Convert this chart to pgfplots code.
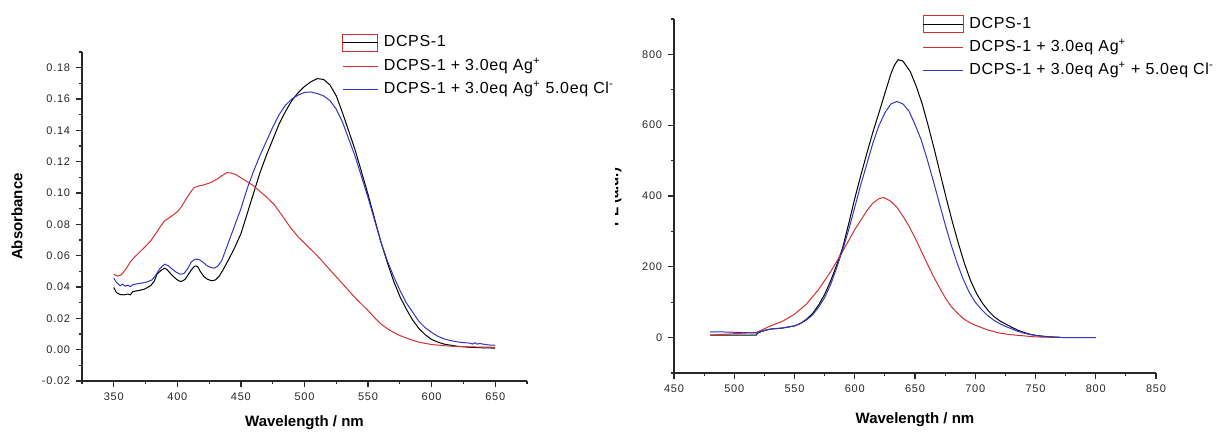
\documentclass[border=0pt]{standalone}
\usepackage{pgfplots}
\pgfplotsset{compat=1.18}
\usepackage{fontspec}
\setmainfont{Liberation Sans}
\newfontfamily\tickfont[LetterSpace=7]{Liberation Sans}
\newfontfamily\legfont[LetterSpace=4]{Liberation Sans}
\definecolor{cred}{RGB}{212,48,48}
\definecolor{cblue}{RGB}{52,52,196}
\definecolor{caxis}{RGB}{40,40,40}
\pgfplotsset{
  myaxis/.style={
    scale only axis,
    axis x line*=bottom, axis y line*=left,
    axis line style={caxis, line width=0.8pt},
    tick style={caxis, line width=0.7pt},
    tick align=outside,
    major tick length=3.6pt, minor tick length=2pt,
    tick label style={font=\tickfont\fontsize{6.6}{7}\selectfont, text=black!85},
    /pgf/number format/assume math mode=true,
    label style={font=\bfseries\fontsize{9}{10}\selectfont},
    legend style={draw=none, fill=none, inner sep=0pt, anchor=north west,
      font=\legfont\fontsize{9.6}{11}\selectfont, cells={anchor=west},
      nodes={inner sep=0.5pt, text height=7pt, text depth=2.2pt},
      row sep=3.6pt, column sep=3pt},
    every axis plot/.append style={line width=0.6pt},
  }
}
\begin{document}
\begin{tikzpicture}
\useasboundingbox (0,0) rectangle (731.4pt,259.8pt);
% ---------------- left chart ----------------
\begin{axis}[myaxis, at={(49.2pt,31.2pt)}, anchor=south west,
  width=267pt, height=197.4pt,
  xmin=325, xmax=675, ymin=-0.02, ymax=0.19,
  xtick={350,400,450,500,550,600,650},
  minor xtick={325,375,425,475,525,575,625,675},
  ytick={-0.02,0,0.02,0.04,0.06,0.08,0.10,0.12,0.14,0.16,0.18},
  minor ytick={-0.01,0.01,0.03,0.05,0.07,0.09,0.11,0.13,0.15,0.17,0.19},
  yticklabel style={/pgf/number format/.cd, fixed, fixed zerofill, precision=2},
  xlabel={Wavelength / nm}, ylabel={Absorbance},
  xlabel style={at={(axis description cs:0.5,-0.128)}, anchor=center},
  ylabel style={at={(axis description cs:-0.146,0.5)}, anchor=center},
  legend style={at={(0.5836,1.057)}},
  legend image code/.code={\draw[#1] (0pt,0pt) -- (21pt,0pt);},
]
\addplot[black, legend image code/.code={\draw[cred,line width=0.6pt] (0pt,-5.1pt) rectangle (21pt,5.1pt); \draw[black,line width=0.6pt] (0pt,0pt) -- (21pt,0pt);}] coordinates {
(350,0.0397)(352,0.0365)(355,0.0352)(358,0.0350)(361,0.0355)(363,0.0350)(365,0.0371)
(370,0.0378)(374,0.0386)(379,0.0408)(382,0.0440)(384,0.0482)(387,0.0505)(390,0.0520)
(392,0.0510)(395,0.0482)(398,0.0458)(401,0.0440)(403,0.0435)(406,0.0448)(409,0.0485)
(412,0.0520)(414,0.0535)(416,0.0530)(418,0.0500)(421,0.0465)(424,0.0448)(427,0.0440)
(430,0.0445)(433,0.0470)(436,0.0510)(440,0.0570)(445,0.0650)(450,0.0740)(455,0.0870)
(460,0.1000)(465,0.1130)(470,0.1240)(475,0.1340)(480,0.1440)(485,0.1520)(490,0.1590)
(495,0.1640)(500,0.1680)(505,0.1710)(510,0.1730)(515,0.1725)(520,0.1690)(525,0.1620)
(530,0.1510)(535,0.1390)(540,0.1270)(545,0.1130)(550,0.0990)(555,0.0840)(560,0.0690)
(565,0.0560)(570,0.0440)(575,0.0340)(580,0.0260)(585,0.0190)(590,0.0135)(595,0.0095)
(600,0.0065)(605,0.0048)(610,0.0035)(620,0.0022)(630,0.0015)(640,0.0012)(650,0.0010)
};
\addlegendentry{DCPS-1}
\addplot[cred] coordinates {
(350,0.0482)(353,0.0470)(356,0.0478)(360,0.0520)(363,0.0560)(366,0.0588)(370,0.0620)
(375,0.0660)(379,0.0694)(383,0.0740)(387,0.0790)(390,0.0822)(395,0.0850)(400,0.0880)
(403,0.0910)(406,0.0950)(410,0.1000)(413,0.1034)(417,0.1045)(421,0.1052)(426,0.1066)
(431,0.1087)(435,0.1110)(439,0.1130)(442,0.1128)(446,0.1118)(450,0.1097)(455,0.1072)
(460,0.1045)(465,0.1010)(470,0.0975)(476,0.0928)(482,0.0860)(489,0.0779)(495,0.0720)
(500,0.0680)(505,0.0640)(510,0.0600)(515,0.0555)(520,0.0510)(525,0.0465)(530,0.0420)
(535,0.0375)(540,0.0330)(545,0.0290)(550,0.0250)(555,0.0205)(560,0.0165)(565,0.0135)
(570,0.0110)(575,0.0090)(580,0.0075)(585,0.0060)(590,0.0048)(595,0.0040)(600,0.0033)
(610,0.0025)(620,0.0020)(635,0.0017)(650,0.0015)
};
\addlegendentry{DCPS-1 + 3.0eq Ag\textsuperscript{+}}
\addplot[cblue] coordinates {
(350,0.0457)(352,0.0430)(355,0.0408)(357,0.0418)(359,0.0405)(361,0.0412)(363,0.0402)
(365,0.0415)(368,0.0420)(372,0.0425)(376,0.0432)(380,0.0445)(383,0.0475)(386,0.0515)
(390,0.0546)(393,0.0535)(396,0.0514)(399,0.0495)(402,0.0482)(405,0.0485)(408,0.0515)
(411,0.0560)(414,0.0578)(417,0.0575)(420,0.0560)(423,0.0538)(426,0.0525)(429,0.0520)
(432,0.0535)(435,0.0570)(440,0.0680)(445,0.0790)(450,0.0900)(455,0.1030)(460,0.1140)
(465,0.1240)(470,0.1330)(475,0.1420)(480,0.1500)(485,0.1560)(490,0.1600)(495,0.1625)
(500,0.1642)(505,0.1645)(510,0.1635)(515,0.1620)(520,0.1590)(525,0.1535)(530,0.1450)
(535,0.1340)(540,0.1230)(545,0.1100)(550,0.0970)(555,0.0830)(560,0.0690)(565,0.0570)
(570,0.0470)(575,0.0380)(580,0.0300)(585,0.0240)(590,0.0180)(595,0.0140)(600,0.0110)
(605,0.0085)(610,0.0068)(615,0.0058)(620,0.0050)(625,0.0045)(630,0.0042)(632,0.0036)
(634,0.0044)(636,0.0035)(638,0.0040)(640,0.0036)(645,0.0030)(650,0.0028)
};
\addlegendentry{DCPS-1 + 3.0eq Ag\textsuperscript{+} 5.0eq Cl\textsuperscript{-}}
\end{axis}
% ---------------- right chart ----------------
\begin{axis}[myaxis, at={(404.4pt,36pt)}, anchor=south west,
  width=289.2pt, height=212.4pt,
  xmin=450, xmax=850, ymin=-100, ymax=900,
  xtick={450,500,550,600,650,700,750,800,850},
  minor xtick={475,525,575,625,675,725,775,825},
  ytick={0,200,400,600,800},
  minor ytick={-100,100,300,500,700,900},
  xlabel={Wavelength / nm},
  xlabel style={at={(axis description cs:0.5,-0.133)}, anchor=center},
  legend style={at={(0.515,1.011)}},
  legend image code/.code={\draw[#1] (0pt,0pt) -- (24pt,0pt);},
]
\addplot[black, legend image code/.code={\draw[cred,line width=0.6pt] (0pt,-5.1pt) rectangle (24pt,5.1pt); \draw[black,line width=0.6pt] (0pt,0pt) -- (24pt,0pt);}] coordinates {
(480,7)(500,7)(518,7)(520,14)(525,20)(530,24)(540,27)(550,33)(555,40)(560,52)(565,68)
(570,92)(575,122)(580,160)(585,205)(590,254)(595,322)(600,393)(605,458)(610,520)(615,580)
(620,634)(625,690)(630,745)(633,770)(636,785)(640,781)(646,752)(651,710)(656,660)(661,598)
(666,532)(671,462)(676,393)(681,327)(686,266)(691,210)(696,162)(701,125)(706,97)(711,75)
(716,58)(721,46)(726,37)(731,28)(736,20)(741,14)(746,9)(751,6)(756,4)(763,2)(770,1)
};
\addlegendentry{DCPS-1}
\addplot[cred] coordinates {
(480,7)(490,9)(500,11)(510,13)(518,14)(525,25)(530,33)(540,46)(550,66)(560,95)(570,136)
(580,186)(590,244)(600,305)(610,358)(615,380)(620,392)(624,396)(630,385)(635,368)(640,343)
(645,315)(650,282)(655,246)(660,210)(665,175)(670,143)(675,113)(680,88)(685,70)(690,54)
(695,43)(700,35)(710,22)(720,13)(730,8)(740,5)(750,2)(760,1)(768,1)
};
\addlegendentry{DCPS-1 + 3.0eq Ag\textsuperscript{+}}
\addplot[cblue] coordinates {
(480,16)(490,16)(500,15)(510,14)(518,13)(522,17)(526,21)(530,24)(540,27)(550,33)(555,40)
(560,50)(565,64)(570,86)(575,113)(580,150)(585,197)(590,248)(595,305)(600,368)(605,432)
(610,490)(615,549)(620,598)(625,635)(630,660)(635,667)(640,660)(645,640)(650,602)(655,560)
(660,505)(665,445)(670,382)(675,320)(680,262)(685,210)(690,165)(695,128)(700,100)(705,80)
(710,63)(715,50)(720,40)(725,32)(730,25)(735,18)(740,13)(745,9)(750,6)(755,4)(760,2)
(765,1)(775,0)(800,0)
};
\addlegendentry{DCPS-1 + 3.0eq Ag\textsuperscript{+} + 5.0eq Cl\textsuperscript{-}}
\end{axis}
\begin{scope}
\clip (369pt,0pt) rectangle (380pt,259.8pt);
\node[rotate=90, anchor=base, font=\bfseries\fontsize{9}{10}\selectfont, inner sep=0pt] at (371pt,141.6pt) {FL (a.u.)};
\end{scope}
\end{tikzpicture}
\end{document}
